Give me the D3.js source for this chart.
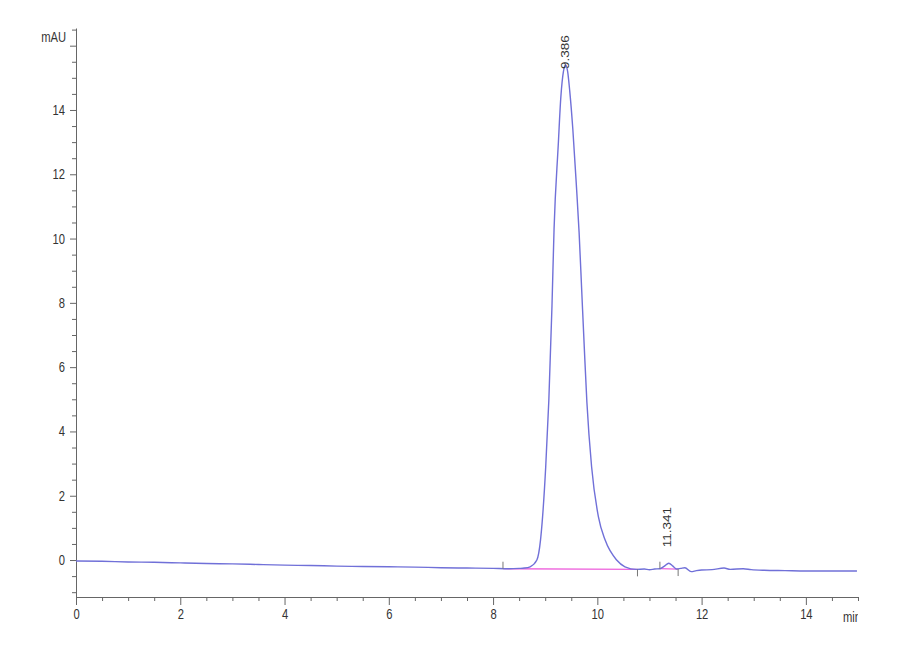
<!DOCTYPE html>
<meta charset="utf-8">
<script src="https://d3js.org/d3.v7.min.js"></script>
<style>
  body { margin: 0; background: #fff; }
  text { font-family: "Liberation Sans", Arial, sans-serif; fill: #333; }
</style>
<div id="chart"></div>
<script>

// signal trace: [time (min), absorbance (mAU)]
var traceTimes = [0, 0.5, 1, 1.5, 2, 2.5, 3, 3.5, 4, 4.5, 5, 5.5, 6, 6.5, 7, 7.5, 8, 8.3, 8.5, 8.6, 8.71,
  8.84, 8.91, 8.95, 9.01, 9.07, 9.13, 9.17, 9.25, 9.3, 9.35, 9.39, 9.43, 9.47, 9.53, 9.6, 9.65, 9.7, 9.75,
  9.8, 9.89, 10.02, 10.15, 10.37, 10.53, 10.75, 10.9, 11.0, 11.1, 11.2, 11.28, 11.37, 11.45, 11.52, 11.6,
  11.68, 11.8, 11.9, 12.0, 12.2, 12.43, 12.55, 12.8, 12.95, 13.2, 13.6, 14.0, 14.5, 14.98];
var traceValues = [-0.03, -0.04, -0.06, -0.07, -0.09, -0.11, -0.12, -0.14, -0.16, -0.17, -0.19, -0.2, -0.21, -0.22, -0.24, -0.25, -0.26, -0.27, -0.26, -0.25, -0.21,
  0.0, 0.62, 1.35, 2.9, 4.98, 7.9, 10.3, 12.9, 14.4, 15.2, 15.4, 15.2, 14.6, 13.4, 11.6, 10.2, 8.4, 6.6,
  4.9, 2.9, 1.35, 0.62, 0.0, -0.21, -0.29, -0.28, -0.3, -0.28, -0.27, -0.2, -0.1, -0.19, -0.28, -0.26,
  -0.24, -0.36, -0.33, -0.31, -0.3, -0.25, -0.29, -0.27, -0.3, -0.32, -0.33, -0.34, -0.34, -0.34];

// integration baselines [start time, start value, end time, end value]
var baselines = [[8.19, -0.27, 10.77, -0.29], [11.2, -0.27, 11.55, -0.28]];
// peak start/end marks: time, value, direction (1 = above trace, -1 = below)
var markTimes = [8.19, 10.77, 11.2, 11.55];
var markValues = [-0.27, -0.29, -0.27, -0.28];
var markDirs = [1, -1, 1, -1];

// peak labels
var peakTimes = [9.386, 11.341];
var peakValues = [15.4, -0.1];
var peakLabels = ["9.386", "11.341"];

var xMajorTicks = [0, 2, 4, 6, 8, 10, 12, 14];
var yMajorTicks = [0, 2, 4, 6, 8, 10, 12, 14, 16];

var width = 900, height = 660;
var squeeze = 0.8;   // labels in the original are narrow
var svg = d3.select("#chart").append("svg")
  .attr("width", width)
  .attr("height", height);

var x = d3.scaleLinear().domain([0, 15]).range([76, 858]);
var y = d3.scaleLinear().domain([-1.15, 16.55]).range([597, 28]);

var axisColor = "#666";

// x axis
var xMinor = d3.range(0, 15.01, 0.5).filter(function(d) { return d % 2 !== 0; });
svg.append("g")
  .attr("transform", "translate(0," + y.range()[0] + ")")
  .call(d3.axisBottom(x).tickValues(xMinor).tickSize(4).tickFormat("").tickSizeOuter(0))
  .call(function(g) { g.select(".domain").remove(); })
  .selectAll("line").attr("stroke", axisColor);
var xAxis = svg.append("g")
  .attr("transform", "translate(0," + y.range()[0] + ")")
  .call(d3.axisBottom(x).tickValues(xMajorTicks).tickSize(8).tickSizeOuter(0).tickPadding(4));
xAxis.select(".domain").attr("stroke", axisColor);
xAxis.selectAll("line").attr("stroke", axisColor);
xAxis.selectAll("text")
  .style("font-size", "14px")
  .attr("fill", "#333")
  .attr("transform", "scale(" + squeeze + ",1)");

// y axis
var yMinor = d3.range(-1, 16.51, 0.5).filter(function(d) { return d % 2 !== 0; });
svg.append("g")
  .attr("transform", "translate(" + x.range()[0] + ",0)")
  .call(d3.axisLeft(y).tickValues(yMinor).tickSize(4).tickFormat("").tickSizeOuter(0))
  .call(function(g) { g.select(".domain").remove(); })
  .selectAll("line").attr("stroke", axisColor);
var yAxis = svg.append("g")
  .attr("transform", "translate(" + x.range()[0] + ",0)")
  .call(d3.axisLeft(y).tickValues(yMajorTicks).tickSize(6).tickSizeOuter(0).tickPadding(5)
    .tickFormat(function(d) { return d === 16 ? "" : d; }));
yAxis.select(".domain").attr("stroke", axisColor);
yAxis.selectAll("line").attr("stroke", axisColor);
yAxis.selectAll("text")
  .style("font-size", "14px")
  .attr("fill", "#333")
  .attr("x", -11 / squeeze)
  .attr("transform", "scale(" + squeeze + ",1)");

// axis units
svg.append("text")
  .attr("transform", "translate(66,42) scale(" + squeeze + ",1)")
  .attr("text-anchor", "end")
  .style("font-size", "14px")
  .text("mAU");

svg.append("clipPath").attr("id", "unitclip")
  .append("rect").attr("x", 830).attr("y", 600).attr("width", 28).attr("height", 40);
svg.append("g")
  .attr("clip-path", "url(#unitclip)")
  .append("text")
  .attr("transform", "translate(843,622) scale(" + squeeze + ",1)")
  .style("font-size", "14px")
  .text("min");

// integration baselines
svg.selectAll(".base")
  .data(baselines)
  .enter().append("line")
  .attr("x1", function(d) { return x(d[0]); })
  .attr("y1", function(d) { return y(d[1]); })
  .attr("x2", function(d) { return x(d[2]); })
  .attr("y2", function(d) { return y(d[3]); })
  .attr("stroke", "#ee66dd")
  .attr("stroke-width", 1.3);

// trace
var trace = traceTimes.map(function(t, i) { return [t, traceValues[i]]; });
svg.append("path")
  .datum(trace)
  .attr("fill", "none")
  .attr("stroke", "#7070d8")
  .attr("stroke-width", 1.4)
  .attr("d", d3.line()
    .x(function(d) { return x(d[0]); })
    .y(function(d) { return y(d[1]); })
    .curve(d3.curveMonotoneX));

// start/end marks
svg.selectAll(".mark")
  .data(markTimes)
  .enter().append("line")
  .attr("x1", function(d) { return x(d); })
  .attr("x2", function(d) { return x(d); })
  .attr("y1", function(d, i) { return y(markValues[i]); })
  .attr("y2", function(d, i) { return y(markValues[i]) - 7 * markDirs[i]; })
  .attr("stroke", "#777")
  .attr("stroke-width", 1);

// peak labels (the big one sits on its apex, the small one floats above)
var labelGap = [-4, 16];
svg.selectAll(".plabel")
  .data(peakTimes)
  .enter().append("text")
  .attr("transform", function(d, i) {
    return "translate(" + x(d) + "," + (y(peakValues[i]) - labelGap[i]) + ") rotate(-90) scale(1," + squeeze + ")";
  })
  .attr("dy", "0.35em")
  .style("font-size", "13.5px")
  .attr("fill", "#222")
  .text(function(d, i) { return peakLabels[i]; });

</script>
